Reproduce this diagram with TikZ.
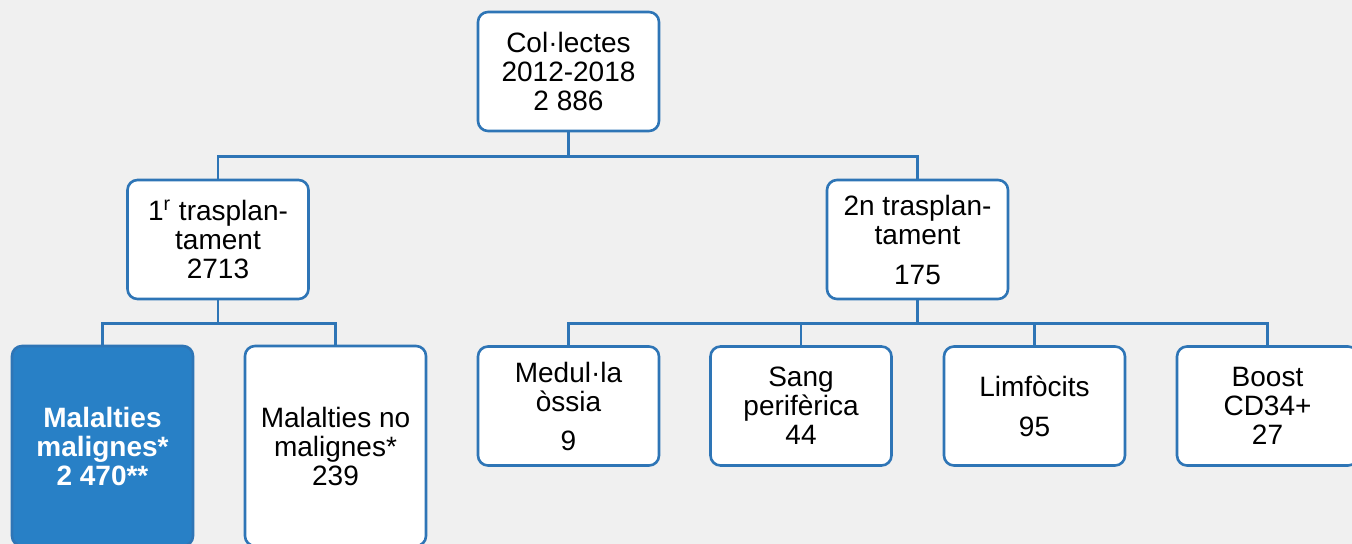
\documentclass[tikz,border=0pt]{standalone}
\usepackage{fontspec}
\setmainfont{Liberation Sans}
\definecolor{boxline}{RGB}{46,117,182}
\definecolor{boxfill}{RGB}{40,128,198}
\definecolor{bggray}{RGB}{240,240,240}
\begin{document}
\begin{tikzpicture}[x=0.5pt,y=-0.5pt,
 box/.style={rectangle,rounded corners=5pt,draw=boxline,line width=1.3pt,fill=white,
   minimum width=90.5pt,minimum height=59.5pt,align=center,inner sep=2pt,
   font=\fontsize{14}{14.5}\selectfont},
 tallbox/.style={box,minimum height=100pt},
 hilite/.style={tallbox,fill=boxfill,text=white,font=\fontsize{14}{14.5}\selectfont\bfseries},
 link/.style={draw=boxline,line width=1.3pt}]
 \fill[bggray] (0,0) rectangle (1352,544);
 \useasboundingbox (0,0) rectangle (1352,544);
 \node[box] (col) at (568.5,71.5) {Col·lectes\\2012-2018\\2 886};
 \node[box] (tr1) at (218,239.5) {1\textsuperscript{r} trasplan-\\tament\\2713};
 \node[box] (tr2) at (917.5,239.5) {2n trasplan-\\tament\\[5.5pt]175};
 \node[hilite] (mal) at (102.5,446) {Malalties\\malignes*\\2 470**};
 \node[tallbox] (nomal) at (335.5,446) {Malalties no\\malignes*\\239};
 \node[box] (med) at (568.5,406) {Medul·la\\òssia\\[5pt]9};
 \node[box] (sang) at (801,406) {Sang\\perifèrica\\44};
 \node[box] (limf) at (1034.5,406) {Limfòcits\\[5.5pt]95};
 \node[box] (boost) at (1267.5,406) {Boost\\CD34+\\27};
 \draw[link] (col.south) -- ++(0,24) -| (tr1.north);
 \draw[link] (col.south) -- ++(0,24) -| (tr2.north);
 \draw[link] (tr1.south) -- ++(0,23) -| (mal.north);
 \draw[link] (tr1.south) -- ++(0,23) -| (nomal.north);
 \draw[link] (tr2.south) -- ++(0,23) -| (med.north);
 \draw[link] (tr2.south) -- ++(0,23) -| (sang.north);
 \draw[link] (tr2.south) -- ++(0,23) -| (limf.north);
 \draw[link] (tr2.south) -- ++(0,23) -| (boost.north);
\end{tikzpicture}
\end{document}
